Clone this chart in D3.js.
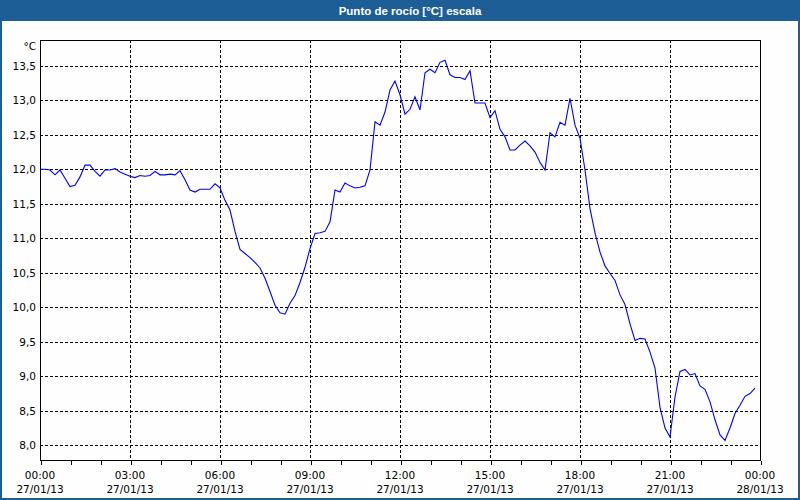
<!DOCTYPE html>
<html><head><meta charset="utf-8">
<script src="https://cdn.jsdelivr.net/npm/d3@7"></script>
<style>html,body{margin:0;padding:0;background:#fff;}svg{display:block;}</style>
</head><body>
<svg id="c" width="800" height="500"></svg>
<script>
const title = "Punto de rocío [°C] escala";
const unitLabel = "°C";
const startTime = "2013-01-27T00:00:00";
const endTime = "2013-01-28T00:00:00";
const stepMinutes = 10;
const yTicks = [8.0, 8.5, 9.0, 9.5, 10.0, 10.5, 11.0, 11.5, 12.0, 12.5, 13.0, 13.5];
const xTickHours = [0, 3, 6, 9, 12, 15, 18, 21, 24];
const dewPoint = [
 12.00,12.00,11.99,11.92,11.99,11.87,11.75,11.77,11.89,12.06,
 12.06,11.97,11.90,11.99,11.99,12.01,11.96,11.93,11.90,11.88,
 11.91,11.90,11.91,11.97,11.92,11.92,11.93,11.92,11.98,11.85,
 11.70,11.67,11.71,11.71,11.71,11.79,11.73,11.55,11.41,11.10,
 10.84,10.78,10.72,10.65,10.57,10.42,10.23,10.03,9.92,9.90,
 10.06,10.17,10.36,10.58,10.85,11.07,11.08,11.10,11.24,11.70,
 11.67,11.80,11.76,11.73,11.74,11.76,11.99,12.69,12.64,12.83,
 13.15,13.28,13.08,12.80,12.87,13.05,12.86,13.40,13.45,13.40,
 13.55,13.58,13.37,13.33,13.33,13.30,13.43,12.96,12.96,12.96,
 12.75,12.85,12.58,12.47,12.28,12.28,12.35,12.41,12.34,12.25,
 12.10,11.99,12.53,12.47,12.68,12.64,13.03,12.64,12.45,11.99,
 11.43,11.08,10.80,10.60,10.49,10.39,10.18,10.04,9.76,9.52,
 9.55,9.54,9.35,9.12,8.55,8.25,8.12,8.70,9.07,9.10,
 9.02,9.04,8.86,8.81,8.63,8.37,8.15,8.07,8.25,8.46,
 8.58,8.71,8.75,8.83
];

const svg = d3.select("#c");
const W = 800, H = 500;
const plot = {l: 40, r: 760, t: 40, b: 460};
const t0 = new Date(startTime), t1 = new Date(endTime);
const data = dewPoint.map((v, i) => ({t: new Date(t0.getTime() + i * stepMinutes * 60000), v}));

const x = d3.scaleTime().domain([t0, t1]).range([plot.l, plot.r]);
const y = d3.scaleLinear().domain([7.787, 13.874]).range([plot.b, plot.t]);

// frame + title bar
svg.append("rect").attr("x", 0).attr("y", 0).attr("width", W).attr("height", H).attr("fill", "#1e5e96");
svg.append("rect").attr("x", 2).attr("y", 21).attr("width", W - 4).attr("height", H - 23).attr("fill", "#fdfefd");
svg.append("text").attr("x", 410).attr("y", 14.5).attr("text-anchor", "middle")
  .attr("fill", "#fff").attr("font-family", "Liberation Sans, Arial, sans-serif")
  .attr("font-weight", "bold").attr("font-size", "11.5px").text(title);

const font = "DejaVu Sans, Verdana, sans-serif";
const g = svg.append("g").attr("shape-rendering", "crispEdges");

// horizontal grid
g.selectAll("line.hg").data(yTicks).join("line")
  .attr("x1", plot.l).attr("x2", plot.r)
  .attr("y1", d => Math.round(y(d)) + 0.5).attr("y2", d => Math.round(y(d)) + 0.5)
  .attr("stroke", "#000").attr("stroke-dasharray", "3,2");
// vertical grid
const xTickDates = xTickHours.map(h => new Date(t0.getTime() + h * 3600000));
g.selectAll("line.vg").data(xTickDates.slice(1, -1)).join("line")
  .attr("y1", plot.t).attr("y2", plot.b)
  .attr("x1", d => Math.round(x(d)) + 0.5).attr("x2", d => Math.round(x(d)) + 0.5)
  .attr("stroke", "#000").attr("stroke-dasharray", "3,2");

// axes
const xAxis = d3.axisBottom(x).ticks(d3.timeHour.every(1)).tickSize(4).tickFormat("");
const xa = svg.append("g").attr("transform", `translate(0,${plot.b + 0.5})`).call(xAxis);
xa.select(".domain").remove();
xa.selectAll("line").attr("stroke", "#000").attr("shape-rendering", "crispEdges").attr("transform", "translate(0.5,0)");

const yAxis = d3.axisLeft(y).tickValues(yTicks).tickSize(0).tickPadding(4)
  .tickFormat(d => d3.format(".1f")(d).replace(".", ","));
const ya = svg.append("g").attr("transform", `translate(${plot.l},0)`).call(yAxis);
ya.select(".domain").remove();
ya.selectAll("text").attr("font-family", font).attr("font-size", "10.5px").attr("fill", "#000");

// frame lines
g.append("rect").attr("x", plot.l + 0.5).attr("y", plot.t + 0.5)
  .attr("width", plot.r - plot.l).attr("height", plot.b - plot.t)
  .attr("fill", "none").attr("stroke", "#000");

svg.append("text").attr("x", 36).attr("y", 50).attr("text-anchor", "end")
  .attr("font-family", font).attr("font-size", "10.5px").text(unitLabel);

// x labels
const fTime = d3.timeFormat("%H:%M"), fDate = d3.timeFormat("%d/%m/%y");
const xl = svg.append("g").attr("font-family", font).attr("font-size", "10.5px").attr("text-anchor", "middle");
xl.selectAll("text.t").data(xTickDates).join("text")
  .attr("x", d => x(d)).attr("y", 479).text(d => fTime(d));
xl.selectAll("text.d").data(xTickDates).join("text")
  .attr("x", d => x(d)).attr("y", 493).text(d => fDate(d));

// line
svg.append("path").datum(data)
  .attr("fill", "none").attr("stroke", "#0000ff").attr("stroke-width", 1.1)
  .attr("d", d3.line().x(d => x(d.t)).y(d => y(d.v)));
</script>
</body></html>
